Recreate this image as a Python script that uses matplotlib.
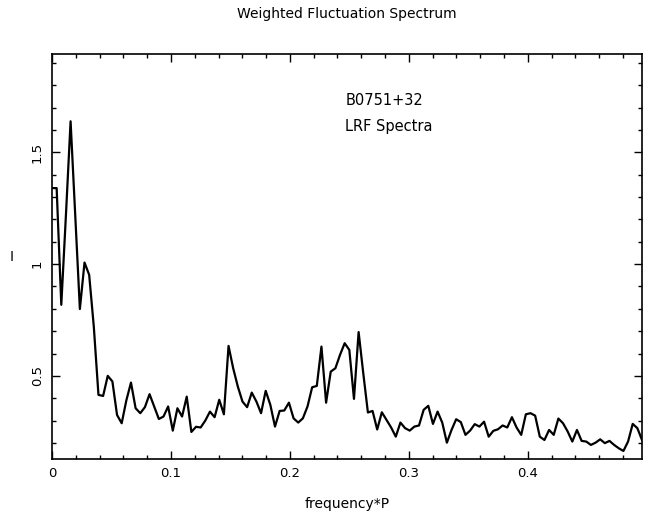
# -*- coding: utf-8 -*-

import matplotlib
matplotlib.use('Agg')
import matplotlib.pyplot as plt
from matplotlib.ticker import MultipleLocator, FuncFormatter
import numpy as np

# spectrum values, one per frequency bin k/256
intensity = [
    1.34, 1.34, 0.818, 1.22, 1.639, 1.22, 0.799, 1.007, 0.952, 0.72,
    0.415, 0.41, 0.50, 0.475, 0.325, 0.288, 0.39, 0.47, 0.355, 0.333,
    0.36, 0.418, 0.363, 0.307, 0.318, 0.363, 0.255, 0.355, 0.318, 0.407,
    0.249, 0.272, 0.269, 0.30, 0.34, 0.315, 0.393, 0.328, 0.634, 0.534,
    0.452, 0.385, 0.36, 0.425, 0.385, 0.333, 0.433, 0.37, 0.273, 0.343,
    0.345, 0.38, 0.31, 0.291, 0.31, 0.363, 0.449, 0.455, 0.631, 0.38,
    0.519, 0.534, 0.594, 0.646, 0.616, 0.397, 0.696, 0.512, 0.336, 0.343,
    0.26, 0.337, 0.303, 0.269, 0.228, 0.291, 0.266, 0.255, 0.273, 0.278,
    0.348, 0.366, 0.285, 0.34, 0.291, 0.201, 0.258, 0.306, 0.293, 0.236,
    0.255, 0.284, 0.273, 0.295, 0.228, 0.254, 0.261, 0.278, 0.269, 0.315,
    0.269, 0.236, 0.328, 0.333, 0.322, 0.228, 0.213, 0.258, 0.236, 0.309,
    0.288, 0.251, 0.206, 0.258, 0.209, 0.206, 0.191, 0.201, 0.216, 0.199,
    0.209, 0.191, 0.176, 0.164, 0.206, 0.285, 0.266, 0.213,
]
n_fft = 256
title = 'Weighted Fluctuation Spectrum'
pulsar = 'B0751+32'
note = 'LRF Spectra'

freq = np.arange(len(intensity)) / float(n_fft)

fig = plt.figure(figsize=(6.59, 5.14), dpi=100)
ax = fig.add_axes([52 / 659., 1 - 459 / 514., 590 / 659., 405 / 514.])
ax.plot(freq, intensity, color='black', lw=1.6)

ax.set_xlim(0, freq[-1])
ax.set_ylim(0.128, 1.94)

ax.xaxis.set_major_locator(MultipleLocator(0.1))
ax.xaxis.set_minor_locator(MultipleLocator(0.02))
ax.yaxis.set_major_locator(MultipleLocator(0.5))
ax.yaxis.set_minor_locator(MultipleLocator(0.1))
fmt = FuncFormatter(lambda v, p: '%g' % round(v, 3))
ax.xaxis.set_major_formatter(fmt)
ax.yaxis.set_major_formatter(fmt)

ax.tick_params(which='both', direction='in', top=True, right=True, width=1)
ax.tick_params(which='major', length=6, labelsize=9.5, pad=6)
ax.tick_params(which='minor', length=3)
for lab in ax.get_yticklabels():
    lab.set_rotation(90)
    lab.set_va('center')
for sp in ax.spines.values():
    sp.set_linewidth(1.2)

ax.set_xlabel('frequency*P', fontsize=10)
ax.set_ylabel('I', fontsize=10, rotation=0, ha='center', va='center')
ax.xaxis.set_label_coords(0.5, -0.095)
ax.yaxis.set_label_coords(-0.068, 0.5)
fig.text(347 / 659., 1 - 14 / 514., title, ha='center', va='center', fontsize=10)

ax.text(0.497, 0.886, pulsar, transform=ax.transAxes, fontsize=10.5, va='center')
ax.text(0.497, 0.822, note, transform=ax.transAxes, fontsize=10.5, va='center')

plt.savefig('out.png', dpi=100)
plt.close()
